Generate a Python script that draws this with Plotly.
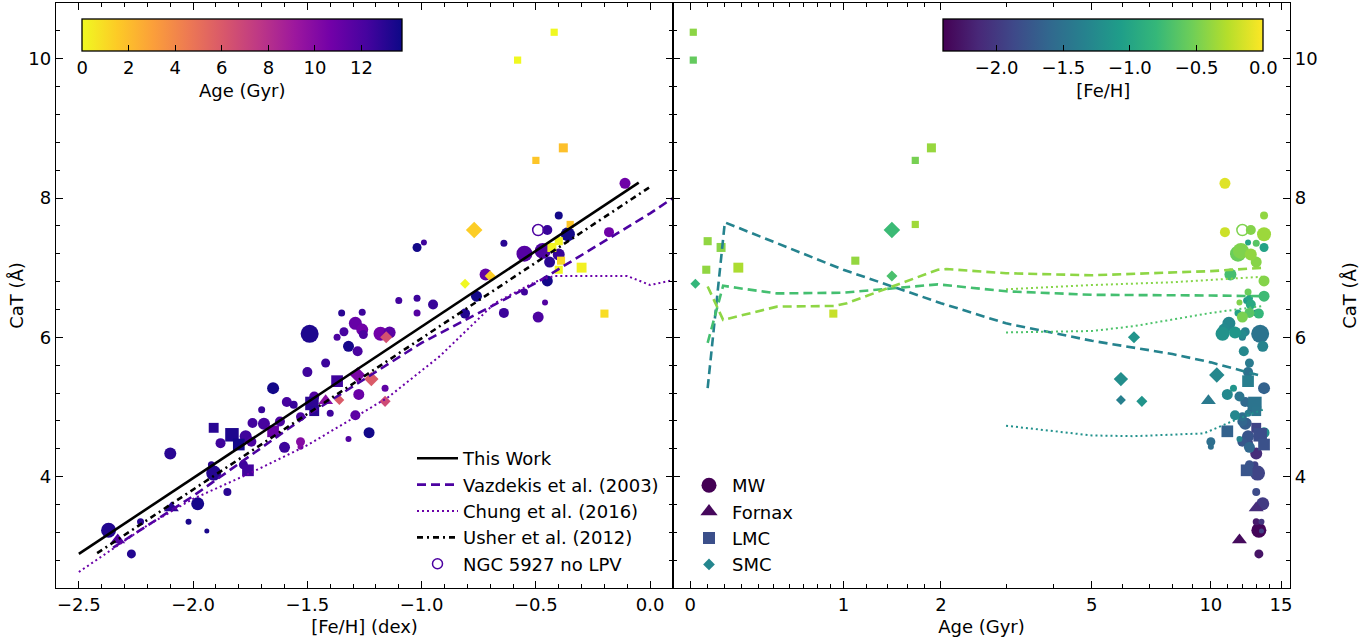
import numpy as np
import plotly.graph_objects as go

# ---------------- data ----------------
# Milky Way globular clusters: [Fe/H], CaT (A), age (Gyr), marker size
mw_feh = [-2.37, -2.27, -2.23, -2.10, -2.02, -1.94, -1.98, -1.92, -1.91, -1.88, -1.85, -1.78,
          -1.77, -1.745, -1.74, -1.69, -1.62, -1.60, -1.70, -1.65, -1.59, -1.56, -1.53, -1.53,
          -1.53, -1.47, -1.40, -1.32, -1.29, -1.275, -1.23, -1.16, -1.49, -1.50, -1.42, -1.37,
          -1.35, -1.34, -1.32, -1.29, -1.28, -1.26, -1.26, -1.255, -1.18, -1.14, -1.10, -1.02,
          -1.02, -0.95, -1.02, -0.99, -0.81, -0.76, -0.72, -0.64, -0.64, -0.55, -0.55, -0.49,
          -0.47, -0.46, -0.45, -0.45, -0.44, -0.40, -0.40, -0.36, -0.18, -0.11]
mw_cat = [3.23, 2.89, 3.35, 4.33, 3.35, 3.22, 3.61, 4.17, 4.05, 4.48, 3.78, 4.17,
          4.58, 4.50, 4.77, 4.76, 4.79, 4.42, 4.96, 5.27, 5.07, 5.03, 4.86, 4.50,
          4.43, 5.15, 4.91, 4.54, 4.88, 5.18, 4.63, 5.27, 6.05, 5.50, 5.63, 6.00,
          6.35, 6.08, 5.87, 6.20, 5.80, 6.11, 6.36, 6.04, 6.05, 6.07, 6.53, 6.56,
          6.35, 6.47, 7.29, 7.36, 6.34, 6.59, 6.90, 7.35, 6.35, 6.65, 7.20, 6.29,
          7.24, 6.50, 7.54, 6.81, 7.08, 7.75, 7.19, 7.48, 7.51, 8.21]
mw_age = [13.2, 13.2, 13.0, 13.0, 13.4, 13.4, 13.5, 12.9, 13.1, 12.4, 13.0, 12.5,
          12.4, 12.0, 12.3, 12.2, 12.0, 12.5, 12.6, 13.6, 12.2, 12.6, 12.0, 10.0,
          10.0, 11.8, 12.4, 11.8, 11.5, 11.0, 13.6, 11.4, 13.3, 12.4, 12.5, 12.0,
          13.0, 12.2, 13.5, 11.1, 12.1, 10.8, 12.5, 12.0, 10.7, 11.5, 12.3, 12.5,
          11.7, 12.6, 13.6, 12.4, 13.2, 13.6, 11.2, 13.0, 12.5, 12.4, 11.7, 12.0,
          11.9, 11.8, 12.6, 13.6, 13.0, 13.6, 12.6, 13.6, 10.85, 10.85]
mw_size = [15, 9, 7, 12, 6, 5, 13, 7, 15, 10, 8, 9,
           12, 10, 10, 12, 10, 11, 7, 12, 10, 8, 9, 9,
           6, 10, 7, 6, 10, 11, 11, 7, 18, 10, 9, 7,
           7, 9, 11, 13, 10, 12, 7, 9, 14, 12, 7, 7,
           7, 10, 9, 6, 10, 11, 12, 7, 10, 7, 16, 11,
           16, 6, 10, 11, 11, 8, 12, 14, 10, 11]

fnx_feh = [-2.33, -2.095, -1.42]
fnx_cat = [3.09, 3.55, 5.09]
fnx_age = [11.8, 13.0, 9.86]
fnx_size = [13, 13, 13]

lmc_feh = [-1.91, -1.83, -1.80, -1.76, -1.65, -1.48, -1.47, -1.37,
           -0.42, -0.58, -0.50, -0.38, -0.35, -0.40, -0.43, -0.39, -0.40, -0.30, -0.20]
lmc_cat = [4.70, 4.60, 4.46, 4.09, 4.65, 5.05, 4.94, 5.37,
           10.38, 9.98, 8.54, 8.72, 7.62, 7.38, 7.29, 7.10, 6.97, 7.00, 6.34]
lmc_age = [13.0, 13.3, 13.6, 12.3, 11.0, 12.9, 13.0, 12.4,
           0.017, 0.017, 1.69, 1.88, 1.69, 0.10, 0.178, 1.10, 0.092, 0.28, 0.92]
lmc_size = [11, 15, 13, 13, 13, 15, 11, 13,
            8, 8, 8, 10, 8, 9, 10, 9, 9, 11, 9]

smc_feh = [-1.36, -1.22, -1.16, -1.155, -1.28, -0.81, -0.77, -0.70]
smc_cat = [5.10, 5.40, 5.08, 6.00, 5.46, 6.77, 7.54, 6.88]
smc_age = [5.93, 5.93, 6.7, 6.4, 10.35, 0.029, 1.44, 1.44]
smc_size = [9, 13, 10, 11, 14, 9, 15, 10]

ngc_feh = [-0.49]
ngc_cat = [7.54]
ngc_age = [12.0]

# calibration / model lines, left panel (CaT vs [Fe/H])
tw_feh = [-2.5, -0.05]
tw_cat = [2.89, 8.22]
vaz_feh = [-2.35, -2.0, -1.5, -1.0, -0.5, 0.0, 0.1]
vaz_cat = [2.98, 3.72, 4.88, 5.92, 6.78, 7.78, 8.0]
chu_feh = [-2.5, -2.2, -2.0, -1.75, -1.5, -1.15, -0.92, -0.68, -0.5, -0.42, -0.1, 0.0, 0.1]
chu_cat = [2.63, 3.3, 3.68, 4.05, 4.45, 5.13, 5.73, 6.49, 6.80, 6.88, 6.88, 6.75, 6.82]
ush_feh = [-2.42, 0.0]
ush_cat = [2.90, 8.16]

# model tracks, right panel (CaT vs age)
vt_age = [0.1, 0.2, 1.0, 2.0, 3.0, 5.0, 8.0, 10.0, 13.5]
vt_cat = [5.27, 7.65, 6.97, 6.49, 6.20, 5.95, 5.76, 5.64, 5.44]
vg_age = [0.1, 0.19, 0.27, 0.52, 1.0, 1.36, 1.96, 3.0, 5.0, 10.0, 13.6]
vg_cat = [5.92, 6.74, 6.71, 6.63, 6.64, 6.69, 6.76, 6.66, 6.61, 6.60, 6.59]
vl_age = [0.1, 0.19, 0.52, 0.93, 1.03, 1.96, 2.07, 3.0, 5.0, 10.0, 13.6]
vl_cat = [6.73, 6.25, 6.44, 6.45, 6.49, 6.97, 6.98, 6.92, 6.89, 6.95, 7.00]
cl_age = [3.0, 5.0, 8.0, 10.0, 13.5]
cl_cat = [6.69, 6.75, 6.79, 6.82, 6.87]
cg_age = [3.0, 5.0, 6.4, 8.0, 10.0, 13.5]
cg_cat = [6.07, 6.09, 6.16, 6.25, 6.35, 6.45]
ct_age = [3.0, 5.0, 6.4, 8.4, 9.6, 11.6, 13.5]
ct_cat = [4.73, 4.59, 4.58, 4.60, 4.62, 4.82, 4.96]

age_ticks = [0, 1, 2, 5, 10, 15]
age_minor = [0.1, 0.2, 0.3, 0.4, 0.5, 0.6, 0.7, 0.8, 0.9, 1.2, 1.4, 1.6, 1.8,
             3, 4, 6, 7, 8, 9, 11, 12, 13, 14]
feh_ticks = [-2.5, -2.0, -1.5, -1.0, -0.5, 0.0]
cat_ticks = [4, 6, 8, 10]

FONT = "DejaVu Sans"
FS = 18

# plot-area geometry (pixels)
L, R, T, B = 56, 1290, 3, 588
PW, PH = R - L, B - T


def A(v):
    return np.arcsinh(np.asarray(v, dtype=float))


def lab(v, fmt):
    return [(fmt % x).replace("-", "\u2212") for x in v]


def px(x):
    return (x - L) / PW


def py(y):
    return (B - y) / PH


fig = go.Figure()

pops = [
    (mw_feh, mw_cat, mw_age, mw_size, "circle", 1.0),
    (fnx_feh, fnx_cat, fnx_age, fnx_size, "triangle-up", 1.0),
    (lmc_feh, lmc_cat, lmc_age, lmc_size, "square", 0.9),
    (smc_feh, smc_cat, smc_age, smc_size, "diamond", 0.85),
]
for feh, cat, age, size, sym, k in pops:
    fig.add_trace(go.Scatter(
        x=feh, y=cat, mode="markers", showlegend=False, xaxis="x", yaxis="y",
        marker=dict(symbol=sym, size=[s * k for s in size], color=age,
                    coloraxis="coloraxis", line=dict(width=0), opacity=1)))
    fig.add_trace(go.Scatter(
        x=A(age), y=cat, mode="markers", showlegend=False, xaxis="x2", yaxis="y2",
        marker=dict(symbol=sym, size=[s * k for s in size], color=feh,
                    coloraxis="coloraxis2", line=dict(width=0), opacity=1)))

# NGC 5927 without LPV
fig.add_trace(go.Scatter(x=ngc_feh, y=ngc_cat, mode="markers", showlegend=False,
                         xaxis="x", yaxis="y",
                         marker=dict(symbol="circle-open", size=11, color="#4c02a1",
                                     line=dict(width=1.5))))
fig.add_trace(go.Scatter(x=A(ngc_age), y=ngc_cat, mode="markers", showlegend=False,
                         xaxis="x2", yaxis="y2",
                         marker=dict(symbol="circle-open", size=11, color="#7fd34e",
                                     line=dict(width=1.5))))

# left panel lines
left_lines = [
    (tw_feh, tw_cat, "black", "solid", 2.6, "This Work"),
    (vaz_feh, vaz_cat, "#4c02a1", "9px,5px", 2.6, "Vazdekis et al. (2003)"),
    (chu_feh, chu_cat, "#6a00a8", "2px,3px", 2.0, "Chung et al. (2016)"),
    (ush_feh, ush_cat, "black", "6px,4px,2px,4px", 2.6, "Usher et al. (2012)"),
]
for x, y, c, d, w, name in left_lines:
    fig.add_trace(go.Scatter(x=x, y=y, mode="lines", name=name, legend="legend",
                             xaxis="x", yaxis="y",
                             line=dict(color=c, dash=d, width=w)))
fig.add_trace(go.Scatter(x=[None], y=[None], mode="markers", name="NGC 5927 no LPV",
                         legend="legend", xaxis="x", yaxis="y",
                         marker=dict(symbol="circle-open", size=10, color="#4c02a1",
                                     line=dict(width=1.5))))

# right panel tracks
right_lines = [
    (vt_age, vt_cat, "#25838e", "9px,5px", 2.6),
    (vg_age, vg_cat, "#44bf70", "9px,5px", 2.6),
    (vl_age, vl_cat, "#8ed645", "9px,5px", 2.6),
    (cl_age, cl_cat, "#86d549", "2px,3px", 2.0),
    (cg_age, cg_cat, "#4ec36b", "2px,3px", 2.0),
    (ct_age, ct_cat, "#21918c", "2px,3px", 2.0),
]
for x, y, c, d, w in right_lines:
    fig.add_trace(go.Scatter(x=A(x), y=y, mode="lines", showlegend=False,
                             xaxis="x2", yaxis="y2",
                             line=dict(color=c, dash=d, width=w)))

# right legend entries
for name, sym, size, col in [("MW", "circle", 15, "#440154"),
                             ("Fornax", "triangle-up", 15, "#46085c"),
                             ("LMC", "square", 12, "#3b4f8a"),
                             ("SMC", "diamond", 9, "#24868e")]:
    fig.add_trace(go.Scatter(x=[None], y=[None], mode="markers", name=name,
                             legend="legend2", xaxis="x2", yaxis="y2",
                             marker=dict(symbol=sym, size=size, color=col,
                                         line=dict(width=0))))

axis_common = dict(showline=True, linecolor="black", linewidth=1.3, mirror="allticks",
                   ticks="inside", ticklen=7, tickwidth=1.1, tickcolor="black",
                   showgrid=False, zeroline=False,
                   tickfont=dict(family=FONT, size=FS, color="black"))


def cbar(cx, title, tickvals, ticktext=None):
    d = dict(orientation="h", x=px(cx), xanchor="center", y=py(19), yanchor="top",
             len=320, lenmode="pixels", thickness=32, thicknessmode="pixels",
             xpad=0, ypad=0, outlinewidth=1.3, outlinecolor="black",
             ticks="inside", ticklen=6, tickcolor="black", tickvals=tickvals,
             tickfont=dict(family=FONT, size=FS),
             title=dict(text=title, side="bottom", font=dict(family=FONT, size=FS)))
    if ticktext is not None:
        d["ticktext"] = ticktext
    return d


fig.update_layout(
    width=1363, height=641,
    margin=dict(l=L, r=1363 - R, t=T, b=641 - B, autoexpand=False),
    paper_bgcolor="white", plot_bgcolor="white",
    font=dict(family=FONT, size=FS, color="black"),
    xaxis=dict(domain=[0, 0.5], range=[-2.6, 0.1], tickvals=feh_ticks,
               ticktext=lab(feh_ticks, "%.1f"),
               minor=dict(dtick=0.1, tick0=0, ticks="inside", ticklen=4, tickcolor="black"),
               title=dict(text="[Fe/H] (dex)", standoff=6,
                          font=dict(family=FONT, size=FS)),
               anchor="y", **axis_common),
    xaxis2=dict(domain=[0.5, 1], range=[float(A(-0.1)), float(A(15.8))],
                tickvals=list(A(age_ticks)), ticktext=[str(t) for t in age_ticks],
                minor=dict(tickvals=list(A(age_minor)), ticks="inside", ticklen=4,
                           tickcolor="black"),
                title=dict(text="Age (Gyr)", standoff=6, font=dict(family=FONT, size=FS)),
                anchor="y2", **axis_common),
    yaxis=dict(range=[2.4, 10.8], tickvals=cat_ticks, ticktext=[str(t) for t in cat_ticks],
               minor=dict(dtick=0.4, tick0=0, ticks="inside", ticklen=4, tickcolor="black"),
               title=dict(text="CaT (Å)", standoff=0, font=dict(family=FONT, size=FS)),
               anchor="x", **axis_common),
    yaxis2=dict(range=[2.4, 10.8], tickvals=cat_ticks, ticktext=[str(t) for t in cat_ticks],
                minor=dict(dtick=0.4, tick0=0, ticks="inside", ticklen=4, tickcolor="black"),
                title=dict(text="CaT (Å)", standoff=26, font=dict(family=FONT, size=FS)),
                anchor="x2", side="right", **axis_common),
    coloraxis=dict(colorscale="Plasma_r", cmin=0, cmax=13.75,
                   colorbar=cbar(242.2, "Age (Gyr)", [0, 2, 4, 6, 8, 10, 12])),
    coloraxis2=dict(colorscale="Viridis", cmin=-2.4, cmax=0.0,
                    colorbar=cbar(1103.3, "[Fe/H]", [-2.0, -1.5, -1.0, -0.5, 0.0],
                                  lab([-2.0, -1.5, -1.0, -0.5, 0.0], "%.1f"))),
    legend=dict(x=px(412), y=py(440), xanchor="left", yanchor="top",
                bgcolor="rgba(0,0,0,0)", borderwidth=0, itemwidth=41,
                font=dict(family=FONT, size=FS), tracegroupgap=0),
    legend2=dict(x=px(686), y=py(467), xanchor="left", yanchor="top",
                 bgcolor="rgba(0,0,0,0)", borderwidth=0, itemwidth=36,
                 font=dict(family=FONT, size=FS), tracegroupgap=0),
)

fig.write_html("out.html", config={"displayModeBar": False},
               post_script="document.body.style.margin='0px';"
                           "document.body.style.overflow='hidden';")
